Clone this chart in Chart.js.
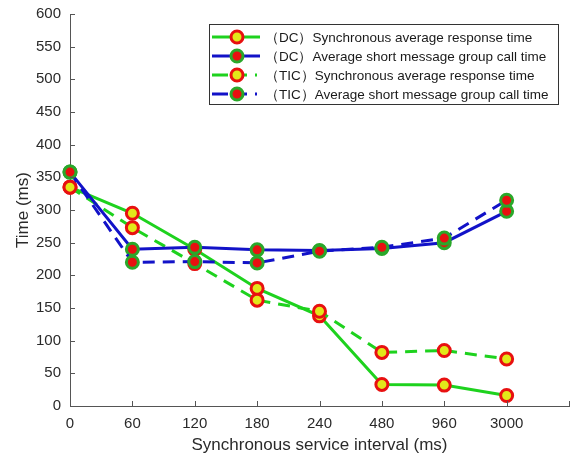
<!DOCTYPE html>
<html>
<head>
<meta charset="utf-8">
<script src="https://cdn.jsdelivr.net/npm/chart.js@4/dist/chart.umd.min.js"></script>
<style>
  html, body { margin: 0; padding: 0; background: #fff; }
  #wrap { width: 572px; height: 456px; }
</style>
</head>
<body>
<div id="wrap"><canvas id="myChart" width="572" height="456"></canvas></div>
<script>
//----------------------
// Data
//----------------------

const intervals = ['0', '60', '120', '180', '240', '480', '960', '3000', ''];
const yTicks = [0, 50, 100, 150, 200, 250, 300, 350, 400, 450, 500, 550, 600];

const dcSyncTime = [335, 295, 240, 180, 138, 33, 32, 16];
const dcGroupCall = [358, 240, 243, 239, 238, 241, 250, 298];
const ticSyncTime = [335, 273, 218, 162, 145, 82, 85, 72];
const ticGroupCall = [358, 220, 221, 219, 237, 243, 257, 315];

const seriesNames = [
    '（DC）Synchronous average response time',
    '（DC）Average short message group call time',
    '（TIC）Synchronous average response time',
    '（TIC）Average short message group call time'
];

//----------------------
// Styles
//----------------------

const green = '#1ed21e';
const blue = '#1212c8';
const red = '#e81010';
const yellow = '#e2e81a';
const markGreen = '#2aa82a';
const axisGray = '#555';
const font = "'Liberation Sans', Arial, sans-serif";

function lineSet(name, values, color, face, edge, dashed, order) {
    return {
        label: name,
        data: values,
        order: order,
        borderColor: color,
        backgroundColor: face,
        borderWidth: 3,
        borderDash: dashed ? [12, 8] : [],
        pointRadius: 6,
        pointHoverRadius: 6,
        pointBorderWidth: 3,
        pointBackgroundColor: face,
        pointBorderColor: edge,
        tension: 0
    };
}

//----------------------
// Inward tick marks (matlab style)
//----------------------

const innerTicks = {
    id: 'innerTicks',
    afterDraw(chart) {
        const c = chart.ctx;
        const xs = chart.scales.x, ys = chart.scales.y;
        c.save();
        c.strokeStyle = axisGray;
        c.lineWidth = 1;
        c.beginPath();
        xs.ticks.forEach((t, i) => {
            const px = Math.round(xs.getPixelForTick(i)) + 0.5;
            c.moveTo(px, ys.bottom);
            c.lineTo(px, ys.bottom - 5);
        });
        ys.ticks.forEach((t, i) => {
            const py = Math.round(ys.getPixelForTick(i)) + 0.5;
            c.moveTo(xs.left, py);
            c.lineTo(xs.left + 5, py);
        });
        c.stroke();
        c.restore();
    }
};

//----------------------
// Legend box drawn by hand (line + marker samples)
//----------------------

const boxLegend = {
    id: 'boxLegend',
    afterDatasetsDraw(chart) {
        const c = chart.ctx;
        const x0 = 209, y0 = 24, w = 349, h = 80;
        c.save();
        c.fillStyle = '#fff';
        c.fillRect(x0, y0, w, h);
        c.strokeStyle = '#333';
        c.lineWidth = 1;
        c.strokeRect(x0 + 0.5, y0 + 0.5, w, h);
        chart.data.datasets.forEach((ds, i) => {
            const y = 37 + i * 19;
            c.strokeStyle = ds.borderColor;
            c.lineWidth = 3;
            c.setLineDash(ds.borderDash.length ? [16, 13, 6, 8, 2, 40] : []);
            c.beginPath();
            c.moveTo(212, y);
            c.lineTo(260, y);
            c.stroke();
            c.setLineDash([]);
            c.beginPath();
            c.arc(237, y, 6, 0, Math.PI * 2);
            c.fillStyle = ds.pointBackgroundColor;
            c.fill();
            c.strokeStyle = ds.pointBorderColor;
            c.lineWidth = 3;
            c.stroke();
            c.fillStyle = '#1a1a1a';
            c.font = '13.5px ' + font;
            c.textBaseline = 'middle';
            c.fillText(ds.label, 265, y + 1);
        });
        c.restore();
    }
};

//----------------------
// Chart
//----------------------

const ctx = document.getElementById('myChart').getContext('2d');
const chart = new Chart(ctx, {
    type: 'line',
    data: {
        labels: intervals,
        datasets: [
            lineSet(seriesNames[0], dcSyncTime, green, yellow, red, false, 3),
            lineSet(seriesNames[1], dcGroupCall, blue, red, markGreen, false, 1),
            lineSet(seriesNames[2], ticSyncTime, green, yellow, red, true, 2),
            lineSet(seriesNames[3], ticGroupCall, blue, red, markGreen, true, 0)
        ]
    },
    options: {
        responsive: false,
        animation: false,
        layout: { autoPadding: false, padding: { top: 14, right: 3, left: 0, bottom: 0 } },
        plugins: {
            legend: { display: false },
            tooltip: { enabled: false }
        },
        scales: {
            x: {
                type: 'category',
                offset: false,
                grid: { display: false, drawTicks: false },
                border: { color: axisGray, width: 1 },
                ticks: {
                    color: '#2a2a2a',
                    font: { family: font, size: 15 },
                    padding: 9,
                    maxRotation: 0,
                    autoSkip: false
                },
                title: {
                    display: true,
                    text: 'Synchronous service interval (ms)',
                    color: '#2a2a2a',
                    font: { family: font, size: 17 },
                    padding: { top: 0, bottom: 0 }
                },
                afterFit(scale) {
                    scale.height = 50;
                    scale.paddingLeft = 0;
                    scale.paddingRight = 0;
                }
            },
            y: {
                min: 0,
                max: 600,
                afterBuildTicks(scale) {
                    scale.ticks = yTicks.map(v => ({ value: v }));
                },
                grid: { display: false, drawTicks: false },
                border: { color: axisGray, width: 1 },
                ticks: {
                    color: '#2a2a2a',
                    font: { family: font, size: 15 },
                    padding: 9
                },
                title: {
                    display: true,
                    text: 'Time (ms)',
                    color: '#2a2a2a',
                    font: { family: font, size: 17 },
                    padding: { top: 13, bottom: 0 }
                },
                afterFit(scale) {
                    scale.width = 70;
                    scale.paddingTop = 0;
                    scale.paddingBottom = 0;
                }
            }
        }
    },
    plugins: [innerTicks, boxLegend]
});
</script>
</body>
</html>
